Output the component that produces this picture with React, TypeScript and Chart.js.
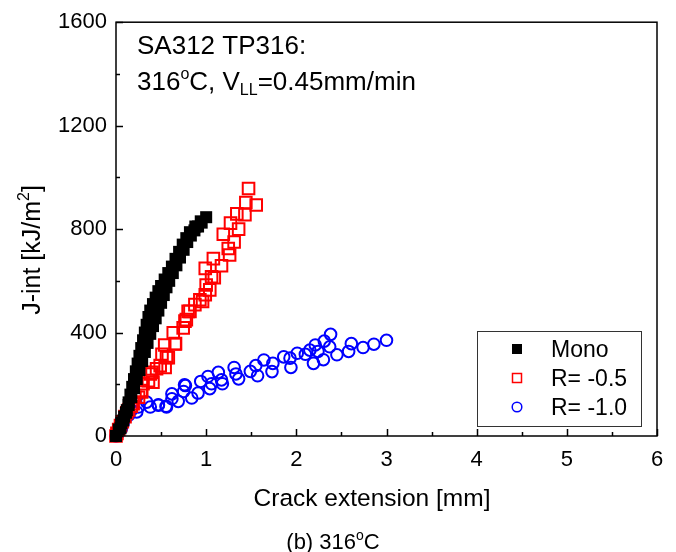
import React, { useEffect, useRef } from "react";
import { Chart, registerables } from "chart.js";
Chart.register(...registerables);

const xTicks = [0, 1, 2, 3, 4, 5, 6];
const yTicks = [0, 400, 800, 1200, 1600];

const monoAX = [0, 0.03, 0.06, 0.09, 0.12, 0.14, 0.16, 0.18, 0.2, 0.22, 0.24, 0.26, 0.28, 0.3, 0.32, 0.34, 0.36, 0.38, 0.41, 0.44, 0.47, 0.5, 0.54, 0.58, 0.62, 0.66, 0.7, 0.74, 0.78, 0.82, 0.88, 0.94, 1.0];
const monoAY = [0, 25, 50, 75, 100, 130, 160, 190, 220, 250, 280, 310, 340, 370, 400, 430, 460, 485, 510, 535, 560, 580, 605, 630, 655, 685, 712, 740, 765, 788, 810, 830, 846];
const monoBX = [0.05, 0.08, 0.11, 0.14, 0.17, 0.2, 0.23, 0.26, 0.29, 0.32, 0.35, 0.38, 0.41, 0.44, 0.47, 0.5, 0.53, 0.56, 0.59, 0.63, 0.67, 0.71, 0.75, 0.79, 0.83, 0.87, 0.91, 0.95];
const monoBY = [30, 60, 90, 120, 150, 185, 220, 255, 290, 325, 360, 395, 425, 455, 485, 515, 545, 575, 600, 630, 660, 690, 720, 750, 775, 795, 810, 825];

const r05X = [0, 0.01, 0.03, 0.05, 0.07, 0.1, 0.12, 0.14, 0.17, 0.19, 0.21, 0.25, 0.28, 0.285, 0.3, 0.36, 0.38, 0.4, 0.41, 0.45, 0.49, 0.51, 0.545, 0.56, 0.58, 0.54, 0.635, 0.655, 0.66, 0.745, 0.765, 0.78, 0.8, 0.82, 0.875, 0.93, 0.96, 0.99, 1.0, 1.04, 1.06, 1.09, 0.99, 1.08, 1.17, 1.26, 1.245, 1.31, 1.19, 1.36, 1.27, 1.43, 1.34, 1.555, 1.44, 1.47];
const r05Y = [0, 10, 25, 40, 55, 75, 90, 100, 115, 125, 150, 150, 176, 170, 202, 214, 240, 246, 208, 260, 272, 316, 265, 304, 303, 352, 399, 356, 357, 418, 444, 450, 482, 482, 508, 527, 520, 546, 584, 565, 616, 612, 648, 686, 658, 700, 725, 750, 780, 800, 823, 856, 859, 893, 903, 957];

const r10X = [0, 0.02, 0.04, 0.06, 0.08, 0.1, 0.14, 0.17, 0.23, 0.25, 0.34, 0.38, 0.47, 0.47, 0.555, 0.56, 0.62, 0.62, 0.69, 0.75, 0.76, 0.77, 0.84, 0.91, 0.94, 1.02, 1.04, 1.06, 1.135, 1.17, 1.18, 1.31, 1.33, 1.36, 1.49, 1.55, 1.57, 1.64, 1.73, 1.74, 1.86, 1.93, 1.94, 2.01, 2.1, 2.15, 2.19, 2.21, 2.24, 2.3, 2.31, 2.37, 2.38, 2.45, 2.58, 2.61, 2.74, 2.86, 3.0];
const r10Y = [0, 8, 20, 29, 50, 68, 80, 100, 93, 112, 131, 112, 121, 119, 115, 112, 144, 163, 134, 172, 198, 195, 147, 166, 211, 230, 183, 202, 246, 217, 202, 265, 240, 221, 250, 272, 233, 294, 249, 281, 306, 301, 265, 320, 316, 332, 281, 352, 327, 295, 367, 345, 393, 314, 327, 357, 342, 355, 370];

const toPts = (xs: number[], ys: number[]) => xs.map((x, i) => ({ x, y: ys[i] }));

const FONT = "'Liberation Sans', Arial, sans-serif";

type Part = { t: string; s: number; dy?: number };
function drawRich(ctx: CanvasRenderingContext2D, parts: Part[], x: number, y: number, align: "left" | "center") {
  let total = 0;
  for (const p of parts) {
    ctx.font = `${p.s}px ${FONT}`;
    total += ctx.measureText(p.t).width;
  }
  let cx = align === "center" ? x - total / 2 : x;
  ctx.textAlign = "left";
  ctx.textBaseline = "alphabetic";
  for (const p of parts) {
    ctx.font = `${p.s}px ${FONT}`;
    ctx.fillText(p.t, cx, y + (p.dy || 0));
    cx += ctx.measureText(p.t).width;
  }
}

const decor = {
  id: "decor",
  afterDraw(chart: any) {
    const ctx: CanvasRenderingContext2D = chart.ctx;
    const { left, right, top, bottom } = chart.chartArea;
    const xs = chart.scales.x;
    const ys = chart.scales.y;
    ctx.save();
    ctx.strokeStyle = "#000";
    ctx.lineWidth = 1.5;
    ctx.strokeRect(left, top, right - left, bottom - top);
    ctx.beginPath();
    for (let v = 0; v <= 6.001; v += 0.5) {
      const px = Math.round(xs.getPixelForValue(v)) + 0.5;
      const len = Math.abs(v - Math.round(v)) < 1e-6 ? 7 : 4;
      ctx.moveTo(px, bottom);
      ctx.lineTo(px, bottom - len);
    }
    for (let v = 0; v <= 1600; v += 200) {
      const py = Math.round(ys.getPixelForValue(v)) + 0.5;
      const len = v % 400 === 0 ? 7 : 4;
      ctx.moveTo(left, py);
      ctx.lineTo(left + len, py);
    }
    ctx.stroke();

    ctx.fillStyle = "#000";
    // annotation
    drawRich(ctx, [{ t: "SA312 TP316:", s: 26 }], 137, 54, "left");
    drawRich(ctx, [
      { t: "316", s: 26 },
      { t: "o", s: 16, dy: -11 },
      { t: "C, V", s: 26 },
      { t: "LL", s: 16, dy: 5 },
      { t: "=0.45mm/min", s: 26 },
    ], 137, 90, "left");

    // legend
    ctx.lineWidth = 1;
    ctx.strokeStyle = "#333";
    ctx.strokeRect(477.5, 331.5, 164, 95);
    const rows = [349, 378, 407];
    const labels = ["Mono", "R= -0.5", "R= -1.0"];
    ctx.fillStyle = "#000";
    ctx.fillRect(512, 344, 10, 10);
    ctx.strokeStyle = "#f00";
    ctx.lineWidth = 1.5;
    ctx.strokeRect(512.5, 373.5, 9, 9);
    ctx.strokeStyle = "#00f";
    ctx.beginPath();
    ctx.arc(517, 407, 4.8, 0, Math.PI * 2);
    ctx.stroke();
    ctx.fillStyle = "#000";
    rows.forEach((ry, i) => drawRich(ctx, [{ t: labels[i], s: 23 }], 551, ry + 8, "left"));

    // axis titles
    drawRich(ctx, [{ t: "Crack extension [mm]", s: 24.5 }], 372, 506, "center");
    drawRich(ctx, [
      { t: "(b) 316", s: 22 },
      { t: "o", s: 14, dy: -9 },
      { t: "C", s: 22 },
    ], 333, 549, "center");
    ctx.save();
    ctx.translate(40, 250);
    ctx.rotate(-Math.PI / 2);
    drawRich(ctx, [
      { t: "J-int [kJ/m", s: 25 },
      { t: "2", s: 16, dy: -11 },
      { t: "]", s: 25 },
    ], 0, 0, "center");
    ctx.restore();
    ctx.restore();
  },
};

export default function App() {
  const ref = useRef<HTMLCanvasElement>(null);
  useEffect(() => {
    if (!ref.current) return;
    const chart = new Chart(ref.current, {
      type: "scatter",
      data: {
        datasets: [
          { label: "Mono", data: toPts(monoAX, monoAY), pointStyle: "rect", pointRadius: 8.5, backgroundColor: "#000", borderColor: "#000", borderWidth: 0, clip: false } as any,
          { label: "Mono b", data: toPts(monoBX, monoBY), pointStyle: "rect", pointRadius: 8.5, backgroundColor: "#000", borderColor: "#000", borderWidth: 0, clip: false } as any,
          { label: "R= -0.5", data: toPts(r05X, r05Y), pointStyle: "rect", pointRadius: 8.2, backgroundColor: "rgba(0,0,0,0)", borderColor: "#f00", borderWidth: 2, clip: false } as any,
          { label: "R= -1.0", data: toPts(r10X, r10Y), pointStyle: "circle", pointRadius: 5.8, backgroundColor: "rgba(0,0,0,0)", borderColor: "#00f", borderWidth: 2, clip: false } as any,
        ],
      },
      options: {
        animation: false,
        responsive: false,
        maintainAspectRatio: false,
        layout: { padding: { left: 16, right: 19, top: 18, bottom: 0 } },
        plugins: { legend: { display: false }, tooltip: { enabled: false } },
        scales: {
          x: {
            type: "linear",
            min: 0,
            max: 6,
            afterFit: (s: any) => { s.height = 116; },
            afterBuildTicks: (s: any) => { s.ticks = xTicks.map((v) => ({ value: v })); },
            grid: { display: false, drawTicks: false },
            border: { display: false },
            ticks: { padding: 11, color: "#000", font: { size: 22, family: FONT }, maxRotation: 0, callback: (v: any) => String(v) },
          },
          y: {
            type: "linear",
            min: 0,
            max: 1600,
            afterFit: (s: any) => { s.width = 100; },
            afterBuildTicks: (s: any) => { s.ticks = yTicks.map((v) => ({ value: v })); },
            grid: { display: false, drawTicks: false },
            border: { display: false },
            ticks: { padding: 9, color: "#000", font: { size: 22, family: FONT }, callback: (v: any) => String(v) },
          },
        },
      },
      plugins: [decor],
    });
    return () => chart.destroy();
  }, []);
  return (
    <div style={{ position: "fixed", left: 0, top: 0, width: 676, height: 552 }}>
      <canvas ref={ref} width={676} height={552} style={{ width: 676, height: 552 }} />
    </div>
  );
}
